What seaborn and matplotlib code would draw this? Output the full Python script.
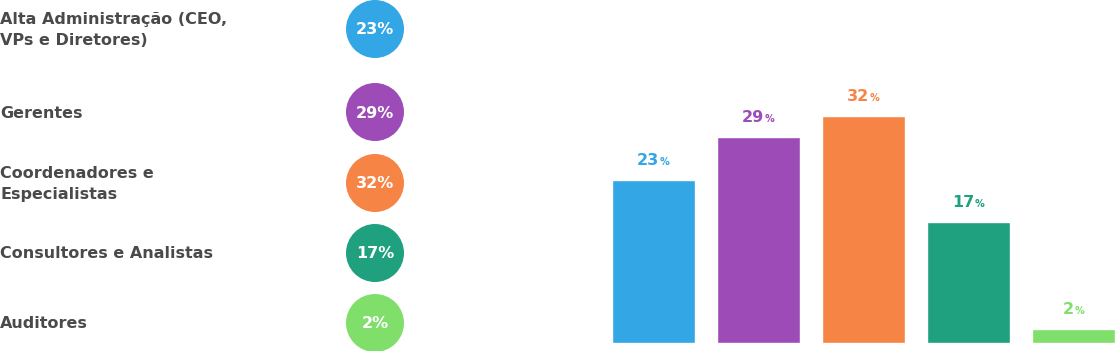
import matplotlib
matplotlib.use('Agg')
import matplotlib.pyplot as plt
import seaborn as sns
import pandas as pd
from matplotlib.offsetbox import TextArea, HPacker, AnnotationBbox

# 数据
categories = ['Alta Administração (CEO,\nVPs e Diretores)', 'Gerentes',
              'Coordenadores e\nEspecialistas', 'Consultores e Analistas', 'Auditores']
percentages = [23, 29, 32, 17, 2]
colors = ['#33a6e6', '#9d4cb7', '#f68545', '#1fa07f', '#80df6b']

# 左侧行的纵向位置（像素）
row_y = [29, 112, 183, 253, 323]

sns.set_theme(style='white')
plt.rcParams['font.family'] = ['DejaVu Sans']

W, H, DPI = 1115, 351, 100
fig = plt.figure(figsize=(W / DPI, H / DPI), dpi=DPI)
fig.patch.set_facecolor('white')

df = pd.DataFrame({'cat': categories, 'pct': percentages, 'y': row_y})

# 左侧：类别标签 + 圆形百分比
ax_l = fig.add_axes([0, 0, 500 / W, 1])
ax_l.set_xlim(0, 500)
ax_l.set_ylim(H, 0)
ax_l.axis('off')
sns.scatterplot(data=df, x=[375] * len(df), y='y', hue='cat', palette=colors,
                s=1744, linewidth=0, legend=False, ax=ax_l, clip_on=False)
for _, r in df.iterrows():
    ax_l.text(0, r['y'] + 1, r['cat'], ha='left', va='center', fontsize=11.5,
              fontweight='bold', color='#4a4a4a', linespacing=1.45)
    ax_l.text(375, r['y'] + 1, f"{r['pct']}%", ha='center', va='center',
              fontsize=11.5, fontweight='bold', color='white')

# 右侧：柱状图
bottom_px = 343
px_per_unit = 227 / 32
ax_b = fig.add_axes([612 / W, (H - bottom_px) / H, 503 / W, bottom_px / H])
sns.barplot(data=df, x='cat', y='pct', hue='cat', palette=colors, width=0.79,
            saturation=1, legend=False, ax=ax_b)
ax_b.set_xlim(-0.395, 4.395)
ax_b.set_ylim(0, bottom_px / px_per_unit)
ax_b.axis('off')

for i, (v, c) in enumerate(zip(percentages, colors)):
    num = TextArea(str(v), textprops=dict(fontsize=11.5, fontweight='bold', color=c))
    pct = TextArea('%', textprops=dict(fontsize=7, fontweight='bold', color=c))
    box = HPacker(children=[num, pct], align='baseline', pad=0, sep=0.5)
    ab = AnnotationBbox(box, (i, v), xybox=(0, 14), xycoords='data',
                        boxcoords='offset points', frameon=False,
                        box_alignment=(0.5, 0.5))
    ax_b.add_artist(ab)

fig.savefig('out.png', dpi=DPI, facecolor='white')
